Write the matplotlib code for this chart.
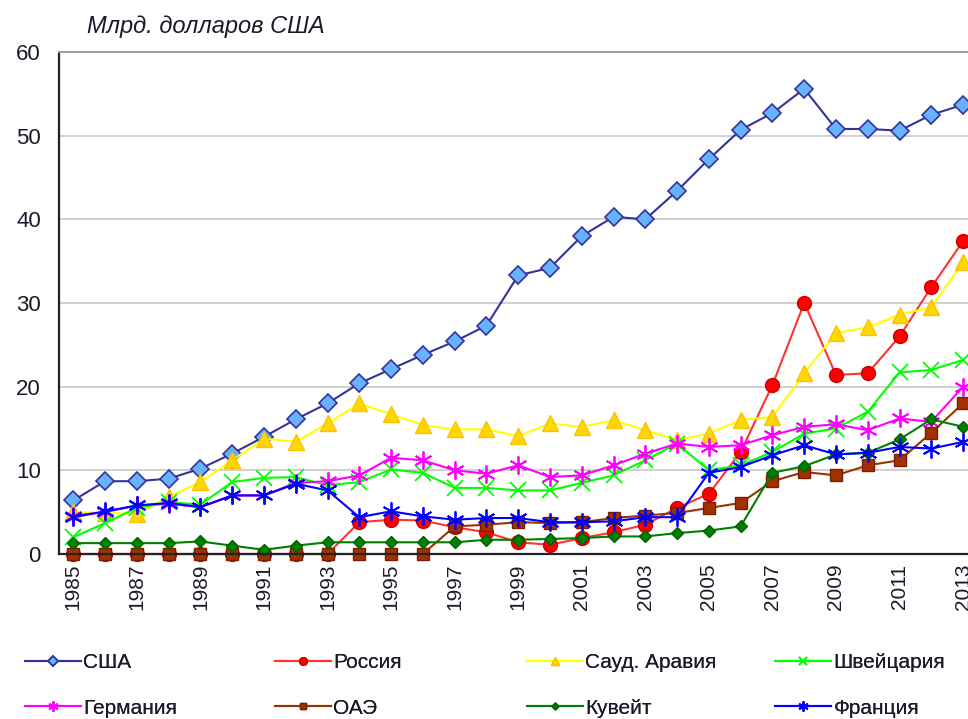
import matplotlib
matplotlib.use('Agg')
import matplotlib.pyplot as plt
from matplotlib.lines import Line2D

plt.rcParams['font.family'] = ['Liberation Sans', 'DejaVu Sans']

years = list(range(1985, 2014))

usa = [6.4, 8.7, 8.7, 9.0, 10.2, 12.0, 14.0, 16.1, 18.0, 20.4, 22.1, 23.8, 25.4, 27.3,
       33.3, 34.2, 38.0, 40.3, 40.0, 43.4, 47.2, 50.7, 52.7, 55.6, 50.8, 50.8, 50.6, 52.5, 53.7]
russia = [0, 0, 0, 0, 0, 0, 0, 0, 0, 3.8, 4.1, 4.0, 3.2, 2.6,
          1.4, 1.1, 1.9, 2.6, 3.5, 5.5, 7.2, 12.2, 20.2, 30.0, 21.4, 21.6, 26.0, 31.9, 37.4]
saudi = [5.0, 4.9, 4.8, 6.8, 8.6, 11.2, 13.8, 13.4, 15.6, 18.0, 16.7, 15.4, 14.9, 14.9,
         14.1, 15.6, 15.2, 16.0, 14.8, 13.6, 14.4, 16.0, 16.4, 21.6, 26.4, 27.1, 28.6, 29.5, 34.9]
swiss = [2.0, 3.7, 5.5, 6.2, 5.9, 8.6, 9.1, 9.2, 8.2, 8.6, 10.1, 9.7, 7.9, 7.9,
         7.6, 7.6, 8.5, 9.4, 11.2, 13.2, 10.0, 10.6, 12.2, 14.4, 15.0, 17.0, 21.7, 22.0, 23.2]
germany = [4.6, 5.0, 5.8, 6.0, 5.6, 7.0, 7.0, 8.5, 8.7, 9.4, 11.5, 11.2, 10.0, 9.6,
           10.6, 9.2, 9.4, 10.6, 12.0, 13.2, 12.8, 13.0, 14.2, 15.2, 15.5, 14.8, 16.2, 15.8, 20.0]
uae = [0, 0, 0, 0, 0, 0, 0, 0, 0, 0, 0, 0, 3.3, 3.5,
       3.8, 3.7, 3.8, 4.3, 4.6, 4.9, 5.5, 6.1, 8.7, 9.8, 9.4, 10.6, 11.2, 14.5, 18.0]
kuwait = [1.3, 1.3, 1.3, 1.3, 1.5, 1.0, 0.5, 1.0, 1.4, 1.4, 1.4, 1.4, 1.4, 1.7,
          1.7, 1.8, 1.9, 2.1, 2.1, 2.5, 2.8, 3.3, 9.7, 10.5, 11.9, 12.1, 13.7, 16.1, 15.2]
france = [4.4, 5.1, 5.8, 6.1, 5.6, 7.0, 7.0, 8.4, 7.6, 4.4, 5.1, 4.5, 4.1, 4.3,
          4.3, 3.8, 3.8, 3.9, 4.4, 4.4, 9.7, 10.4, 11.8, 13.0, 11.9, 12.1, 12.8, 12.6, 13.4]

series = [
    ('США', usa, dict(color='#333399', marker='D', ms=9, mfc='#66B2FF', mec='#333399', mew=1.2)),
    ('Россия', russia, dict(color='#FF3333', marker='o', ms=10, mfc='#FF0000', mec='#CC0000', mew=1)),
    ('Сауд. Аравия', saudi, dict(color='#FFFF00', marker='^', ms=11, mfc='#FFD700', mec='#FFC000', mew=1)),
    ('Швейцария', swiss, dict(color='#00FF00', marker='x', ms=11, mec='#00FF00', mew=1.3)),
    ('Германия', germany, dict(color='#FF00FF', marker=(6, 2, 0), ms=13, mec='#FF00FF', mew=1.3)),
    ('ОАЭ', uae, dict(color='#993300', marker='s', ms=9, mfc='#A33000', mec='#7A2000', mew=1)),
    ('Кувейт', kuwait, dict(color='#008000', marker='D', ms=6.5, mfc='#008000', mec='#006000', mew=1)),
    ('Франция', france, dict(color='#0000FF', marker=(6, 2, 0), ms=13, mec='#0000FF', mew=1.3)),
]

txt_color = '#1A1A2A'

fig = plt.figure(figsize=(9.68, 7.19), dpi=100)
ax = fig.add_axes([59 / 968, 165 / 719, 920 / 968, 502 / 719])

for name, vals, st in series:
    ax.plot(years, vals, lw=1.5, clip_on=False, label=name, **st)

ax.set_xlim(1984.55, 2013.5)
ax.set_ylim(0, 60)
ax.set_yticks(range(0, 61, 10))
ax.set_xticks(range(1985, 2014, 2))
ax.set_xticklabels([str(y) for y in range(1985, 2014, 2)], rotation=90, fontsize=15)
ax.tick_params(axis='y', length=0, pad=13, labelsize=16, labelcolor=txt_color)
ax.tick_params(axis='x', length=0, pad=7, labelcolor=txt_color)
ax.grid(axis='y', color='#C8C8C8', lw=1.2)
ax.set_axisbelow(True)
for s in ['left', 'bottom']:
    ax.spines[s].set_color('#222222')
    ax.spines[s].set_linewidth(1.6)
ax.spines['top'].set_color('#A0A0A0')
ax.spines['top'].set_linewidth(1.4)
ax.spines['right'].set_visible(False)

fig.text(87 / 968, 1 - 27 / 719, 'Млрд. долларов США', fontsize=17, style='italic',
         va='center', ha='left', color=txt_color)

# legend: 4 columns x 2 rows
col_x = [25, 275, 527, 775]
row_y = [663, 708]
for i, (name, vals, st) in enumerate(series):
    hst = dict(st)
    hst['ms'] = st['ms'] * 0.55
    h = Line2D([], [], lw=1.5, **hst)
    lg = fig.legend([h], [name], loc='center left',
                    bbox_to_anchor=(col_x[i % 4] / 968, 1 - row_y[i // 4] / 719),
                    frameon=False, fontsize=15, handlelength=2.7, handletextpad=0.1,
                    borderpad=0, borderaxespad=0, labelcolor=txt_color)
    fig.add_artist(lg)

fig.savefig('out.png', dpi=100)
